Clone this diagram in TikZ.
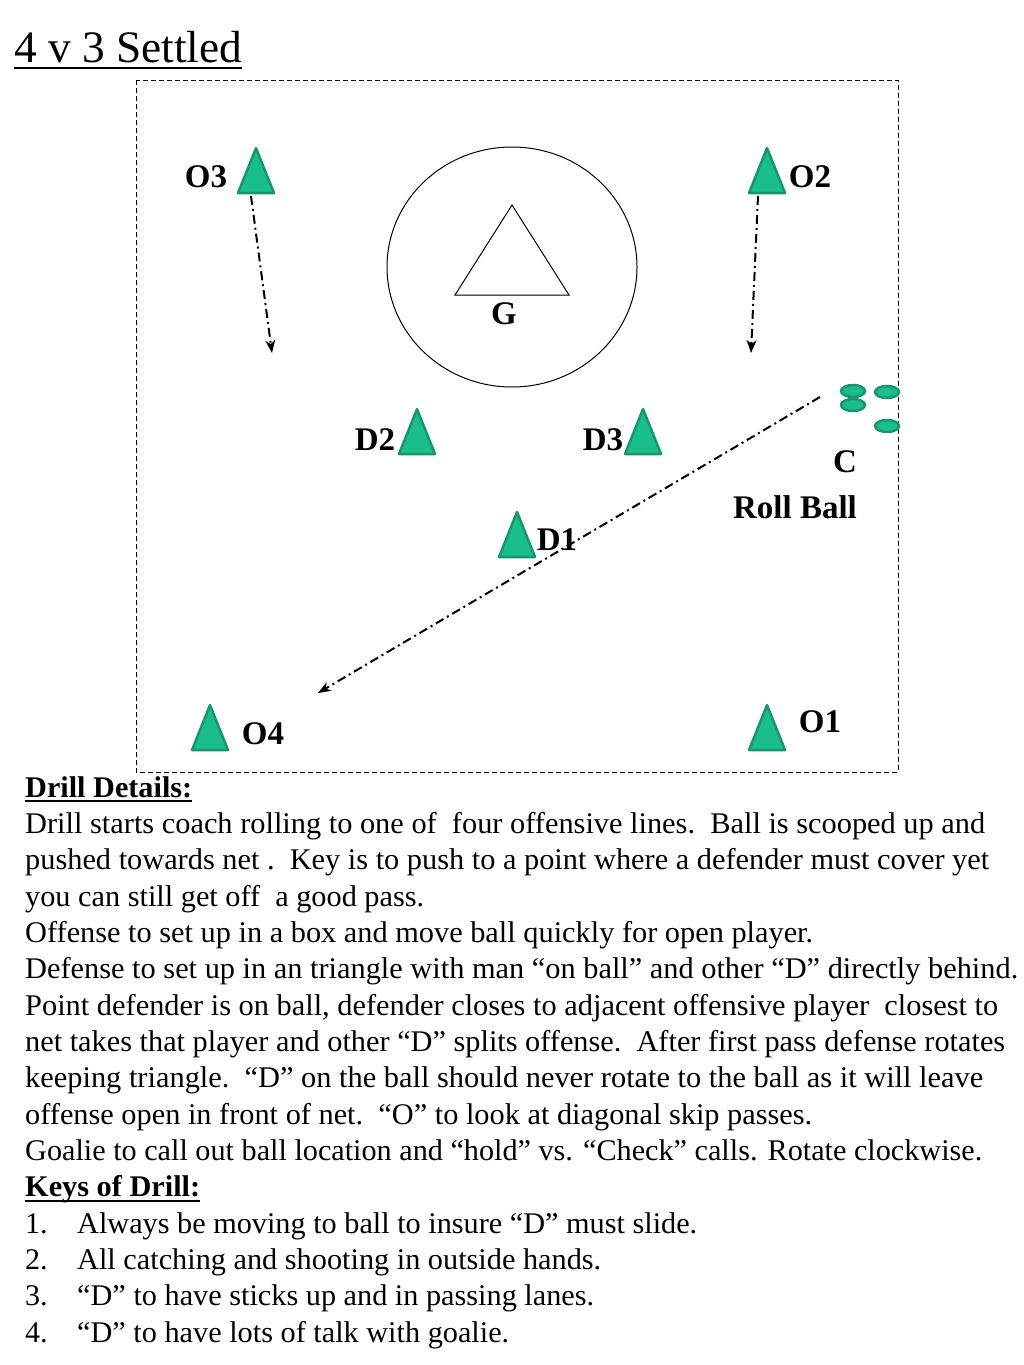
\documentclass[tikz,border=0pt]{standalone}
\usepackage{fontspec}
\setmainfont{Liberation Serif}
\usepackage{graphicx}
\usetikzlibrary{arrows.meta}
\definecolor{conefill}{RGB}{26,190,140}
\definecolor{coneedge}{RGB}{22,150,110}
\tikzset{
  cone/.style={fill=conefill,draw=coneedge,line width=2.5pt,line join=round},
  ballstyle/.style={fill=conefill,draw=coneedge,line width=2.5pt},
  lbl/.style={font=\fontsize{33}{36}\selectfont\bfseries,inner sep=0pt},
  body/.style={font=\fontsize{30}{36}\selectfont,inner sep=0pt,anchor=base west},
  passline/.style={line width=2pt,dash pattern=on 9pt off 4pt on 2pt off 4pt,-{Stealth[length=13pt,width=10pt,inset=4pt,line width=0pt]}},
  fieldbox/.style={line width=1pt,dash pattern=on 5pt off 3pt},
}
\newcommand\conetri[2]{\draw[cone] (#1,#2) -- ++(-18,45) -- ++(36,0) -- cycle;}
\newcommand\fitline[2]{\resizebox{#1pt}{\height}{#2}}
\begin{document}
\begin{tikzpicture}[x=1pt,y=-1pt]
\useasboundingbox (0,0) rectangle (1024,1365);
% title
\node[anchor=base west,inner sep=0pt,font=\fontsize{45}{50}\selectfont] (title) at (14,62) {\resizebox{228pt}{\height}{4 v 3 Settled}};
\draw[line width=2.5pt] ([yshift=-6pt]title.base west) -- ([yshift=-6pt]title.base east);
% field
\draw[fieldbox] (136,80) rectangle (898,772);
% goal crease and goalie
\draw[line width=1pt] (512,267) ellipse [x radius=125, y radius=120];
\draw[line width=1pt,fill=white] (512,205) -- (455,295) -- (569,295) -- cycle;
\node[lbl] (G) at (504,314) {G};
% cones
\conetri{256}{148}
\conetri{767}{148}
\conetri{417}{409}
\conetri{643}{409}
\conetri{517}{512}
\conetri{210}{705}
\conetri{767}{705}
\coordinate (O3b) at (251,196);
\coordinate (O2b) at (758,196);
\coordinate (O3t) at (272,353);
\coordinate (O2t) at (751,353);
\coordinate (Cstart) at (820,397);
\coordinate (O4t) at (318,693);
% labels
\node[lbl] (O3) at (206,177) {O3};
\node[lbl] (O2) at (810,177) {O2};
\node[lbl] (D2) at (375,440) {D2};
\node[lbl] (D3) at (603,440) {D3};
\node[lbl] (D1) at (557,540) {D1};
\node[lbl] (O4) at (263,734) {O4};
\node[lbl] (O1) at (820,722) {O1};
\node[lbl] (C) at (845,462) {C};
\node[lbl] (RB) at (795,507) {Roll Ball};
% balls
\draw[ballstyle] (853,391) ellipse [x radius=12, y radius=6];
\draw[ballstyle] (853,405) ellipse [x radius=12, y radius=6];
\draw[ballstyle] (887,392) ellipse [x radius=12, y radius=6];
\draw[ballstyle] (887,426) ellipse [x radius=12, y radius=6];
% passes
\draw[passline] (O3b) -- (O3t);
\draw[passline] (O2b) -- (O2t);
\draw[passline] (Cstart) -- (O4t);
% text
\node[body,font=\fontsize{30}{36}\selectfont\bfseries] (h1) at (25,797) {\fitline{167}{Drill Details:}};
\draw[line width=2pt] ([yshift=-4pt]h1.base west) -- ([yshift=-4pt]h1.base east);
\node[body] (l2) at (25,833.3) {\fitline{960}{Drill starts coach rolling to one of\ \ four offensive lines.\ \ Ball is scooped up and}};
\node[body] (l3) at (25,869.7) {\fitline{964}{pushed towards net .\ \ Key is to push to a point where a defender must cover yet}};
\node[body] (l4) at (25,906) {\fitline{399}{you can still get off\ \ a good pass.}};
\node[body] (l5) at (25,942.3) {\fitline{788}{Offense to set up in a box and move ball quickly for open player.}};
\node[body] (l6) at (25,978.7) {\fitline{993}{Defense to set up in an triangle with man “on ball” and other “D” directly behind.}};
\node[body] (l7) at (25,1015) {\fitline{973}{Point defender is on ball, defender closes to adjacent offensive player\ \ closest to}};
\node[body] (l8) at (25,1051.3) {\fitline{980}{net takes that player and other “D” splits offense.\ \ After first pass defense rotates}};
\node[body] (l9) at (25,1087.7) {\fitline{958}{keeping triangle.\ \ “D” on the ball should never rotate to the ball as it will leave}};
\node[body] (l10) at (25,1124) {\fitline{787}{offense open in front of net.\ \ “O” to look at diagonal skip passes.}};
\node[body] (l11) at (25,1160.3) {\fitline{957}{Goalie to call out ball location and “hold” vs. “Check” calls. Rotate clockwise.}};
\node[body,font=\fontsize{30}{36}\selectfont\bfseries] (h2) at (25,1196.7) {\fitline{175}{Keys of Drill:}};
\draw[line width=2pt] ([yshift=-4pt]h2.base west) -- ([yshift=-4pt]h2.base east);
\node[body] (n1) at (25,1233) {1.};
\node[body] (k1) at (77,1233) {\fitline{620}{Always be moving to ball to insure “D” must slide.}};
\node[body] (n2) at (25,1269.3) {2.};
\node[body] (k2) at (77,1269.3) {\fitline{524}{All catching and shooting in outside hands.}};
\node[body] (n3) at (25,1305.7) {3.};
\node[body] (k3) at (77,1305.7) {\fitline{517}{“D” to have sticks up and in passing lanes.}};
\node[body] (n4) at (25,1342) {4.};
\node[body] (k4) at (77,1342) {\fitline{432}{“D” to have lots of talk with goalie.}};
\end{tikzpicture}
\end{document}
